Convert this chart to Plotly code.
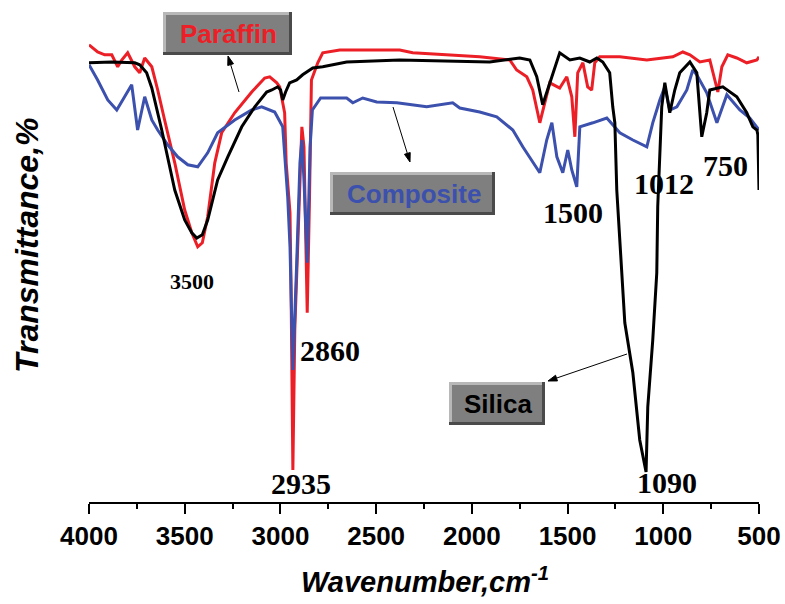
import math
import plotly.graph_objects as go

# ---- FTIR spectra (wavenumber in cm-1, transmittance in arbitrary % units) ----
silica_wn = [4000, 3881, 3761, 3735, 3699, 3672, 3620, 3552, 3500, 3463, 3437, 3408,
             3380, 3328, 3275, 3202, 3134, 3072, 3045, 3014, 2999, 2988, 2973, 2952,
             2915, 2884, 2831, 2779, 2654, 2377, 1907, 1750, 1697, 1661, 1630, 1593,
             1556, 1541, 1488, 1436, 1384, 1347, 1316, 1280, 1264, 1253, 1243, 1238,
             1217, 1201, 1159, 1123, 1090, 1081, 1055, 1034, 1029, 1018, 1008, 992,
             966, 940, 914, 861, 825, 799, 773, 757, 689, 616, 564, 532, 511, 506, 500]
silica_t = [109.8, 110.0, 109.8, 109.3, 107.3, 103.5, 93.0, 78.0, 70.5, 67.3, 66.0, 66.8,
            70.5, 80.5, 86.3, 93.8, 98.8, 102.5, 103.0, 103.8, 103.0, 100.5, 102.5, 104.8,
            105.5, 106.8, 108.5, 108.8, 110.0, 110.5, 110.0, 111.0, 110.5, 106.3, 99.3, 104.8,
            110.5, 112.3, 110.5, 111.0, 110.0, 111.0, 110.0, 107.3, 98.8, 94.8, 78.0, 73.8,
            57.3, 44.8, 32.3, 15.5, 7.5, 23.8, 40.5, 57.3, 73.8, 86.3, 98.8, 104.8,
            97.3, 103.0, 107.3, 110.0, 107.3, 91.3, 97.3, 103.0, 103.8, 101.3, 97.3, 93.8, 93.0, 91.8, 78.0]

paraffin_wn = [4000, 3955, 3918, 3881, 3850, 3829, 3798, 3777, 3761, 3735, 3709, 3672,
               3641, 3605, 3552, 3500, 3463, 3432, 3408, 3380, 3343, 3307, 3239, 3150,
               3082, 3056, 3019, 3004, 2978, 2970, 2950, 2945, 2940, 2935, 2925, 2903,
               2888, 2877, 2870, 2860, 2848, 2838, 2805, 2779, 2690, 2377, 2309, 1959,
               1802, 1766, 1713, 1682, 1645, 1619, 1593, 1541, 1504, 1478, 1462, 1447,
               1420, 1395, 1374, 1358, 1332, 1227, 1086, 950, 898, 861, 809, 757,
               731, 715, 694, 663, 616, 564, 511, 500]
paraffin_t = [114.3, 112.5, 111.8, 111.8, 108.8, 110.5, 112.3, 110.5, 108.8, 107.3, 111.0, 108.8,
              103.0, 95.5, 84.8, 73.0, 67.3, 63.8, 64.8, 71.3, 84.8, 92.3, 97.3, 102.5,
              106.0, 106.3, 104.8, 103.8, 97.3, 84.8, 72.3, 55.5, 34.8, 8.0, 43.0, 76.3,
              93.8, 88.8, 68.0, 47.3, 76.3, 105.5, 109.8, 112.3, 113.0, 113.0, 112.3, 111.3,
              110.5, 108.0, 106.3, 103.0, 94.8, 99.8, 104.8, 103.5, 106.3, 101.3, 91.3, 107.3,
              109.8, 103.8, 103.0, 109.8, 111.3, 111.3, 110.5, 111.3, 112.5, 111.8, 110.0, 110.5,
              105.5, 102.5, 108.8, 111.8, 111.0, 109.8, 110.5, 111.3]

composite_wn = [4000, 3955, 3902, 3855, 3814, 3777, 3746, 3709, 3672, 3641, 3589, 3537,
                3484, 3432, 3380, 3328, 3239, 3150, 3098, 3030, 2988, 2983, 2962, 2950,
                2943, 2935, 2915, 2898, 2888, 2877, 2860, 2845, 2833, 2790, 2706, 2654,
                2622, 2570, 2497, 2392, 2236, 2100, 2063, 1959, 1870, 1786, 1734, 1682,
                1645, 1609, 1582, 1556, 1525, 1499, 1478, 1452, 1436, 1368, 1295, 1227,
                1159, 1086, 1055, 1018, 992, 966, 929, 877, 846, 825, 773, 720,
                668, 600, 548, 500]
composite_t = [109.3, 105.5, 100.5, 98.0, 101.3, 104.3, 93.0, 101.3, 95.5, 93.0, 89.3, 86.3,
               84.3, 83.8, 87.3, 92.3, 95.5, 98.0, 98.8, 97.5, 93.8, 90.5, 76.3, 63.8,
               51.3, 33.0, 59.8, 84.8, 90.5, 80.5, 59.8, 88.8, 98.0, 101.0, 101.0, 101.0,
               99.8, 101.0, 100.0, 99.8, 98.8, 99.8, 98.5, 97.5, 96.3, 93.0, 88.8, 84.8,
               82.3, 90.5, 94.8, 86.3, 82.3, 88.0, 83.0, 78.8, 93.8, 94.8, 96.0, 92.3,
               90.5, 88.8, 94.8, 100.5, 103.8, 98.0, 98.8, 103.0, 108.0, 106.8, 102.3, 94.8,
               101.8, 98.0, 96.0, 93.0]

# Band assignments written on the plot
peak_labels = ["3500", "2935", "2860", "1500", "1012", "750", "1090"]

RED = "#ec1f27"
BLUE = "#3c50ad"

fig = go.Figure()
fig.add_trace(go.Scatter(x=paraffin_wn, y=paraffin_t, mode="lines", name="Paraffin",
                         line=dict(color=RED, width=3)))
fig.add_trace(go.Scatter(x=composite_wn, y=composite_t, mode="lines", name="Composite",
                         line=dict(color=BLUE, width=3)))
fig.add_trace(go.Scatter(x=silica_wn, y=silica_t, mode="lines", name="Silica",
                         line=dict(color="black", width=3)))

# plot-area geometry (pixels) used to position boxes and text in paper units
L, R, T, B = 89.0, 759.0, 30.0, 502.0


def px(x):
    return (x - L) / (R - L)


def py(y):
    return (B - y) / (B - T)


shapes = []
annotations = []


def bevel_box(x0, y0, x1, y1, text, color):
    # dark shadow, light highlight, then the grey face
    shapes.append(dict(type="rect", xref="paper", yref="paper", x0=px(x0), x1=px(x1),
                       y0=py(y1), y1=py(y0), fillcolor="#4a4a4a", line=dict(width=0), layer="above"))
    shapes.append(dict(type="rect", xref="paper", yref="paper", x0=px(x0), x1=px(x1 - 3),
                       y0=py(y1 - 3), y1=py(y0), fillcolor="#b8b8b8", line=dict(width=0), layer="above"))
    shapes.append(dict(type="rect", xref="paper", yref="paper", x0=px(x0 + 3), x1=px(x1 - 3),
                       y0=py(y1 - 3), y1=py(y0 + 3), fillcolor="#7f7f7f", line=dict(width=0), layer="above"))
    annotations.append(dict(xref="paper", yref="paper", x=px((x0 + x1) / 2 + 1), y=py((y0 + y1) / 2),
                            text=text, showarrow=False, xanchor="center", yanchor="middle",
                            font=dict(family="Liberation Sans, Arial", size=26, color=color, weight="bold")))


def pointer(hx, hy, tx, ty, head_len=9, head_w=3):
    # thin shaft plus a filled triangular head
    dx, dy = hx - tx, hy - ty
    d = math.hypot(dx, dy)
    ux, uy = dx / d, dy / d
    bx, by = hx - ux * head_len, hy - uy * head_len
    shapes.append(dict(type="line", xref="paper", yref="paper",
                       x0=px(tx), y0=py(ty), x1=px(bx), y1=py(by),
                       line=dict(color="black", width=1), layer="above"))
    p1 = (bx - uy * head_w, by + ux * head_w)
    p2 = (bx + uy * head_w, by - ux * head_w)
    path = "M {:.5f},{:.5f} L {:.5f},{:.5f} L {:.5f},{:.5f} Z".format(
        px(hx), py(hy), px(p1[0]), py(p1[1]), px(p2[0]), py(p2[1]))
    shapes.append(dict(type="path", xref="paper", yref="paper", path=path,
                       fillcolor="black", line=dict(color="black", width=1), layer="above"))


bevel_box(163, 12, 292, 55, "Paraffin", RED)
bevel_box(330, 172, 495, 215, "Composite", BLUE)
bevel_box(449, 382, 545, 425, "Silica", "black")

pointer(228, 56, 239, 92)
pointer(410, 162, 393, 107)
pointer(548, 381, 627, 354)

# peak labels (pixel centres)
label_pos = [(192, 281, 22), (301, 483, 30), (330, 350, 30), (573, 212, 30),
             (664, 183, 30), (725, 165, 30), (667, 482, 30)]
for txt, (lx, ly, fs) in zip(peak_labels, label_pos):
    annotations.append(dict(xref="paper", yref="paper", x=px(lx), y=py(ly), text=txt,
                            showarrow=False, xanchor="center", yanchor="middle",
                            font=dict(family="Liberation Serif, Times New Roman", size=fs,
                                      color="black", weight="bold")))

# axis titles
annotations.append(dict(xref="paper", yref="paper", x=px(425), y=py(580),
                        text="Wavenumber,cm<sup>-1</sup>", showarrow=False,
                        xanchor="center", yanchor="middle",
                        font=dict(family="Liberation Sans, Arial", size=29, color="black",
                                  weight="bold", style="italic")))
annotations.append(dict(xref="paper", yref="paper", x=px(27), y=py(245),
                        text="Transmittance,%", showarrow=False, textangle=-90,
                        xanchor="center", yanchor="middle",
                        font=dict(family="Liberation Sans, Arial", size=32, color="black",
                                  weight="bold", style="italic")))

fig.update_layout(
    width=785, height=604,
    margin=dict(l=89, r=26, t=30, b=102, autoexpand=False),
    plot_bgcolor="white", paper_bgcolor="white",
    showlegend=False,
    shapes=shapes,
    annotations=annotations,
    xaxis=dict(range=[4000, 500], tickmode="linear", tick0=500, dtick=500,
               automargin=False,
               showline=True, linecolor="black", linewidth=1.5,
               ticks="outside", ticklen=10, tickwidth=1.5, tickcolor="black",
               minor=dict(dtick=250, ticks="outside", ticklen=5, tickwidth=1.5, tickcolor="black"),
               showgrid=False, zeroline=False,
               tickfont=dict(family="Liberation Sans, Arial", size=26, color="black", weight="bold")),
    yaxis=dict(range=[0, 118], visible=False, showgrid=False, zeroline=False, automargin=False),
)

fig.write_html("out.html")
